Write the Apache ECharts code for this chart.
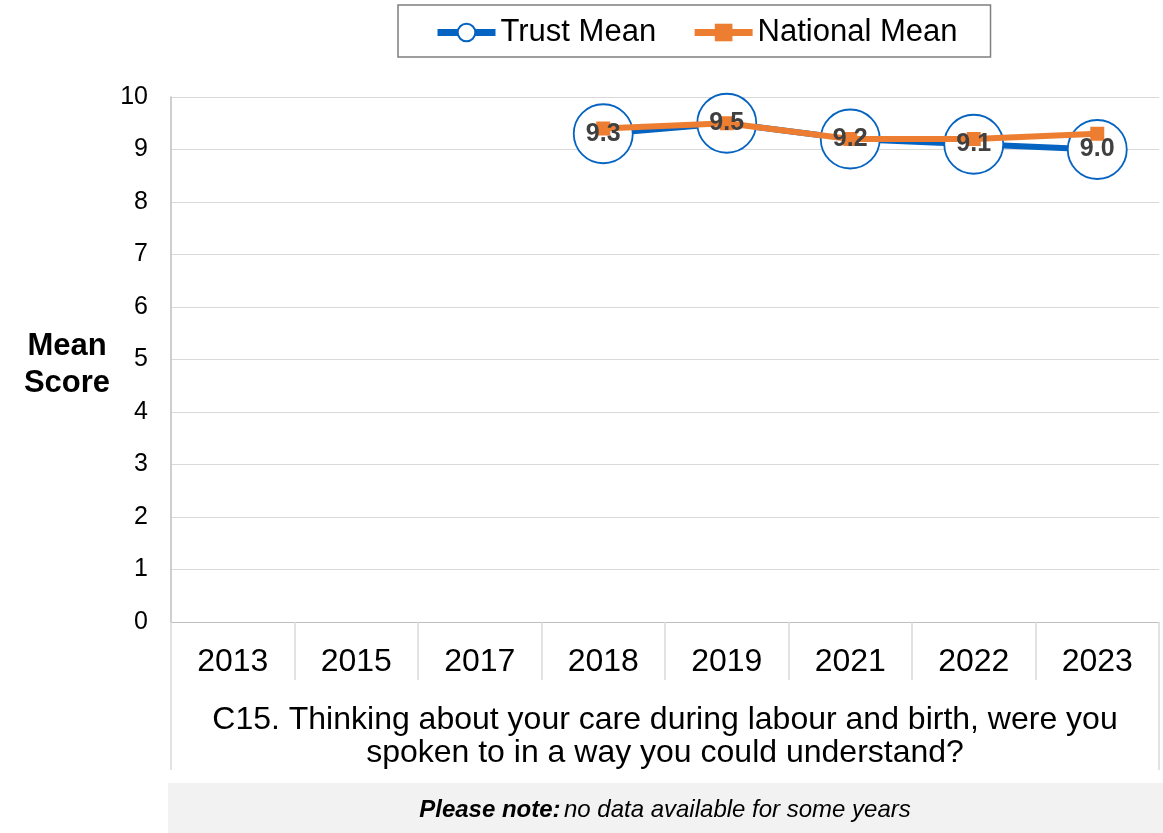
<!DOCTYPE html>
<html>
<head>
<meta charset="utf-8">
<script src="https://cdn.jsdelivr.net/npm/echarts@6/dist/echarts.min.js"></script>
<style>html,body{margin:0;padding:0;background:#fff}#c{width:1163px;height:833px}</style>
</head>
<body>
<div id="c"></div>
<script>
const years = ['2013','2015','2017','2018','2019','2021','2022','2023'];
const trustMean = [null, null, null, 9.3, 9.5, 9.2, 9.1, 9.0];
const nationalMean = [null, null, null, 9.4, 9.5, 9.2, 9.2, 9.3];
const question = ['C15. Thinking about your care during labour and birth, were you\nspoken to in a way you could understand?'];
const yTicks = [0, 10, 1];
const FONT = '"Liberation Sans", Arial, sans-serif';
const BLUE = '#0563C1';
const ORANGE = '#ED7D31';

const chart = echarts.init(document.getElementById('c'), null, {renderer: 'canvas'});
chart.setOption({
  animation: false,
  textStyle: {fontFamily: FONT},
  grid: {left: 171, right: 4, top: 97, bottom: 211, containLabel: false},
  legend: {
    data: ['Trust Mean', 'National Mean'],
    left: 398, top: 5,
    itemWidth: 58, itemHeight: 22, itemGap: 35,
    borderColor: '#7f7f7f', borderWidth: 1.5,
    padding: [12, 33, 9, 36],
    lineStyle: {width: 7},
    textStyle: {fontSize: 31, color: '#000', fontFamily: FONT}
  },
  xAxis: [{
    type: 'category', data: years, position: 'bottom',
    axisLine: {show: true, lineStyle: {color: '#bfbfbf', width: 1}},
    axisTick: {show: true, interval: 0, length: 58, lineStyle: {color: '#d9d9d9', width: 1.5}},
    axisLabel: {fontSize: 32, color: '#000', margin: 24, fontFamily: FONT}
  }, {
    type: 'category', data: question, position: 'bottom', gridIndex: 0,
    axisLine: {show: false},
    axisTick: {show: true, interval: 0, length: 148, lineStyle: {color: '#d9d9d9', width: 1.5}},
    axisLabel: {fontSize: 32, color: '#000', margin: 82, lineHeight: 33, fontFamily: FONT, align: 'center'}
  }],
  yAxis: {
    type: 'value', min: yTicks[0], max: yTicks[1], interval: yTicks[2],
    name: '{s| }\n{a|Mean}\n{a|Score}', nameLocation: 'middle', nameRotate: 0, nameGap: 104,
    nameTextStyle: {
      align: 'center', verticalAlign: 'middle',
      rich: {
        s: {fontSize: 1, lineHeight: 10},
        a: {fontSize: 31, fontWeight: 'bold', color: '#000', lineHeight: 37, fontFamily: FONT}
      }
    },
    axisLine: {show: true, lineStyle: {color: '#bfbfbf', width: 1.5}},
    axisTick: {show: false},
    splitLine: {lineStyle: {color: '#d9d9d9', width: 1}},
    axisLabel: {fontSize: 25, color: '#000', margin: 23, fontFamily: FONT}
  },
  graphic: [{
    type: 'rect', left: 168, top: 783, shape: {width: 995, height: 50},
    style: {fill: '#f2f2f2'}, silent: true
  }, {
    type: 'text', x: 665, y: 810, silent: true,
    style: {
      text: '{b|Please note:} {i|no data available for some years}',
      align: 'center', verticalAlign: 'middle',
      rich: {
        b: {fontSize: 24, fontWeight: 'bold', fontStyle: 'italic', fill: '#000', fontFamily: FONT},
        i: {fontSize: 24, fontStyle: 'italic', fill: '#000', fontFamily: FONT}
      }
    }
  }],
  series: [{
    name: 'Trust Mean', type: 'line', data: trustMean, z: 2,
    symbol: 'circle', symbolSize: 59, showAllSymbol: true,
    lineStyle: {color: BLUE, width: 6},
    itemStyle: {color: '#fff', borderColor: BLUE, borderWidth: 1.8},
    label: {show: false}
  }, {
    name: 'National Mean', type: 'line', data: nationalMean, z: 3,
    symbol: 'rect', symbolSize: 14,
    lineStyle: {color: ORANGE, width: 6},
    itemStyle: {color: ORANGE}
  }, {
    name: 'labels', type: 'line', data: trustMean, z: 4, silent: true,
    symbol: 'circle', symbolSize: 1,
    lineStyle: {width: 0, opacity: 0},
    itemStyle: {color: 'rgba(0,0,0,0)'},
    label: {show: true, position: 'inside', fontSize: 25, fontWeight: 'bold', color: '#404040', fontFamily: FONT,
      formatter: p => p.value == null ? '' : Number(p.value).toFixed(1)}
  }]
});
</script>
</body>
</html>
